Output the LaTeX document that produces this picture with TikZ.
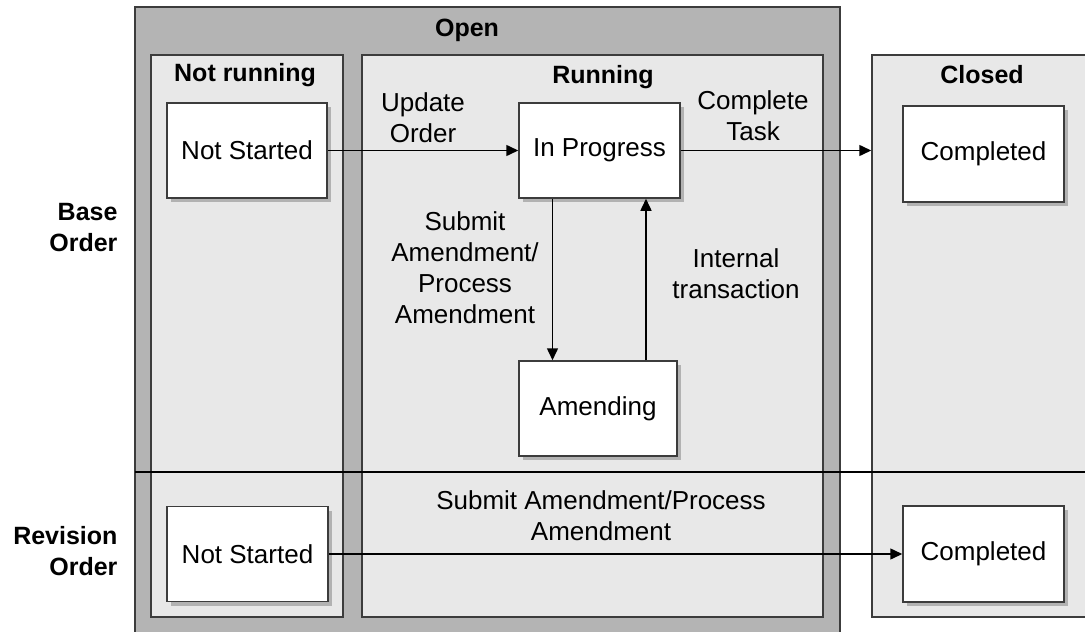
\documentclass[tikz,border=0pt]{standalone}
\usepackage{fontspec}
\setmainfont{Liberation Sans}
\usetikzlibrary{arrows.meta, shadows}
\definecolor{framegray}{RGB}{180,180,180}
\definecolor{lanegray}{RGB}{232,232,232}
\definecolor{edgegray}{RGB}{60,60,60}

\begin{document}
\begin{tikzpicture} [x = 1pt, y = -1pt,
			font = \fontsize{26}{31}\selectfont,
			phase/.style = {draw = edgegray,
					line width = 1.5pt,
					fill = framegray,
					inner sep = 0pt},
			lane/.style = {draw = edgegray,
					line width = 1.5pt,
					fill = lanegray,
					inner sep = 0pt,
					minimum height = 562pt},
			state/.style = {draw = edgegray,
					line width = 1.5pt,
					fill = white,
					minimum width = 161pt,
					minimum height = 95pt,
					drop shadow = {shadow xshift = 4pt, shadow yshift = -4pt,
						fill = black!30, opacity = 1}},
			title/.style = {font = \fontsize{25}{31}\selectfont\bfseries},
			arrow/.style = {line width = 1.5pt,
					-{Triangle[length = 12pt, width = 11pt]}}]

	\useasboundingbox (0,0) rectangle (1085,632);

	\node (open) at (487.5,323.5) [phase, minimum width = 705pt, minimum height = 633pt] {};
	\node (notrun) at (247,336) [lane, minimum width = 192pt] {};
	\node (running) at (592.5,336) [lane, minimum width = 461pt] {};
	\node (closed) at (986,336) [lane, minimum width = 228pt] {};

	\draw [line width = 1.5pt] (135,472) -- (1090,472);

	\node (t open) at (467,30) [title] {Open};
	\node (t notrun) at (245,75) [title] {Not running};
	\node (t running) at (603,77) [title] {Running};
	\node (t closed) at (982,75) [title] {Closed};

	\node (base) at (121,228) [title, anchor = east, align = right] {Base\\Order};
	\node (revision) at (121,551) [title, anchor = east, align = right] {Revision\\Order};

	\node (ns1) at (247,150.5) [state, minimum width = 160pt] {Not Started};
	\node (prog) at (599.5,150.5) [state] {In Progress};
	\node (done1) at (983.5,154) [state, minimum height = 96pt] {Completed};
	\node (amend) at (598,408.5) [state, minimum width = 158pt] {Amending};
	\node (ns2) at (247.5,554) [state] {Not Started};
	\node (done2) at (983.5,554) [state, minimum height = 96pt] {Completed};

	\draw [arrow] (ns1) -- (prog);
	\draw [arrow] (prog) -- (prog -| closed.west);
	\draw [arrow] ([xshift = -47pt]prog.south) -- ([xshift = -47pt]prog.south |- amend.north);
	\draw [arrow] ([xshift = 48pt]amend.north) -- ([xshift = 48pt]amend.north |- prog.south);
	\draw [arrow] (ns2) -- (done2);

	\node (l update) at (423,118) [align = center] {Update\\Order};
	\node (l complete) at (753,116) [align = center] {Complete\\Task};
	\node (l submit) at (465,268) [align = center] {Submit\\Amendment/\\Process\\Amendment};
	\node (l internal) at (736,274) [align = center] {Internal\\transaction};
	\node (l revision) at (601,516) [align = center] {Submit Amendment/Process\\Amendment};

\end{tikzpicture}
\end{document}
